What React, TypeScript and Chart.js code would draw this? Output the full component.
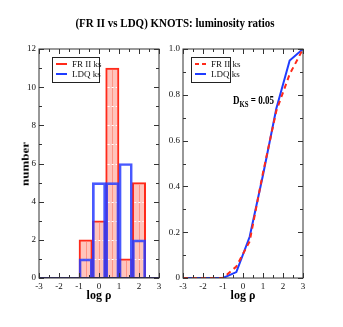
import React, { useEffect, useRef } from "react";
import { Chart, registerables } from "chart.js";

Chart.register(...registerables);

// ---- data ----
const binEdges = [-1, -0.333, 0.333, 1, 1.667, 2.333];
const redCounts = [2, 3, 11, 1, 5];
const blueCounts = [1, 5, 5, 6, 2];

const cdfX = [-3, -1, -0.333, 0.333, 1, 1.667, 2.333, 3];
const cdfRed = [0, 0, 0.05, 0.16, 0.46, 0.73, 0.89, 1];
const cdfBlue = [0, 0, 0.026, 0.18, 0.45, 0.74, 0.95, 1];

const legendLabels = ["FR II ks", "LDQ ks"];
const titleText = "(FR II vs LDQ)  KNOTS: luminosity ratios";

const RED = "#ff2a1a";
const BLUE = "#1f3cff";
const PINK = "#ffc4bc";
const NAVY = "#2b2470";
const FRAME = "#333333";
const SERIF = "'Liberation Serif', 'Times New Roman', serif";

const centers = redCounts.map((_, i) => (binEdges[i] + binEdges[i + 1]) / 2);

function framePlugin(xMinor: number, xMajor: number, yMinor: number, yMajor: number) {
  return {
    id: "frame",
    afterDraw(chart: any) {
      const { ctx, chartArea: a } = chart;
      const xs = chart.scales.x;
      const ys = chart.scales.y;
      ctx.save();
      ctx.strokeStyle = FRAME;
      ctx.lineWidth = 1;
      ctx.strokeRect(a.left, a.top, a.right - a.left, a.bottom - a.top);
      ctx.beginPath();
      const nx = Math.round((xs.max - xs.min) / xMinor);
      for (let i = 0; i <= nx; i++) {
        const v = xs.min + i * xMinor;
        const isMaj = Math.abs(v / xMajor - Math.round(v / xMajor)) < 1e-6;
        const L = isMaj ? 5 : 3;
        const px = Math.round(xs.getPixelForValue(v)) + 0.5;
        ctx.moveTo(px, a.bottom);
        ctx.lineTo(px, a.bottom - L);
        ctx.moveTo(px, a.top);
        ctx.lineTo(px, a.top + L);
      }
      const ny = Math.round((ys.max - ys.min) / yMinor);
      for (let i = 0; i <= ny; i++) {
        const v = ys.min + i * yMinor;
        const isMaj = Math.abs(v / yMajor - Math.round(v / yMajor)) < 1e-6;
        const L = isMaj ? 5 : 3;
        const py = Math.round(ys.getPixelForValue(v)) + 0.5;
        ctx.moveTo(a.left, py);
        ctx.lineTo(a.left + L, py);
        ctx.moveTo(a.right, py);
        ctx.lineTo(a.right - L, py);
      }
      ctx.stroke();
      ctx.restore();
    },
  };
}

function legendPlugin(x0: number, y0: number, w: number, h: number, dashedRed: boolean) {
  return {
    id: "legendBox",
    afterDraw(chart: any) {
      const { ctx } = chart;
      ctx.save();
      ctx.fillStyle = "#ffffff";
      ctx.fillRect(x0, y0, w, h);
      ctx.strokeStyle = "#222";
      ctx.lineWidth = 1;
      ctx.strokeRect(x0 + 0.5, y0 + 0.5, w, h);
      ctx.font = `9px ${SERIF}`;
      ctx.textBaseline = "alphabetic";
      const rows = [
        { c: RED, dash: dashedRed ? [4, 3] : [] },
        { c: BLUE, dash: [] },
      ];
      rows.forEach((r, i) => {
        const ly = y0 + 7 + i * 10;
        ctx.strokeStyle = r.c;
        ctx.lineWidth = 2;
        ctx.setLineDash(r.dash);
        ctx.beginPath();
        ctx.moveTo(x0 + 4, ly);
        ctx.lineTo(x0 + 15, ly);
        ctx.stroke();
        ctx.setLineDash([]);
        ctx.fillStyle = "#111";
        ctx.fillText(legendLabels[i], x0 + 20, ly + 3);
      });
      ctx.restore();
    },
  };
}

const hatchPlugin = {
  id: "hatch",
  afterDatasetDraw(chart: any, args: any) {
    if (chart.data.datasets[args.index].label !== legendLabels[0]) return;
    const { ctx } = chart;
    const ys = chart.scales.y;
    ctx.save();
    args.meta.data.forEach((bar: any, i: number) => {
      const half = bar.width / 2;
      const left = bar.x - half + 2;
      const right = bar.x + half - 2;
      ctx.strokeStyle = "#ff9484";
      ctx.lineWidth = 1;
      ctx.beginPath();
      ctx.moveTo(Math.round(bar.x) + 0.5, bar.y + 2);
      ctx.lineTo(Math.round(bar.x) + 0.5, bar.base);
      ctx.stroke();
      ctx.strokeStyle = "#ffffff";
      ctx.setLineDash([2, 2]);
      for (let k = 1; k < redCounts[i]; k++) {
        const py = Math.round(ys.getPixelForValue(k)) + 0.5;
        ctx.beginPath();
        ctx.moveTo(left, py);
        ctx.lineTo(right, py);
        ctx.stroke();
      }
      ctx.setLineDash([]);
    });
    ctx.restore();
  },
};

function commonScales(yMax: number, yStep: number, yWidth: number, xStacked: boolean) {
  return {
    x: {
      type: "linear" as const,
      min: -3,
      max: 3,
      offset: false,
      stacked: xStacked,
      grid: { display: false, drawTicks: false, offset: false },
      border: { display: false },
      ticks: { stepSize: 1, padding: 3, color: "#111", font: { family: SERIF, size: 9 } },
      afterFit: (s: any) => { s.height = 22; },
    },
    y: {
      min: 0,
      max: yMax,
      stacked: false,
      grid: { display: false, drawTicks: false },
      border: { display: false },
      ticks: { stepSize: yStep, padding: 3, color: "#111", font: { family: SERIF, size: 9 } },
      afterFit: (s: any) => { s.width = yWidth; },
    },
  };
}

export default function App() {
  const leftRef = useRef<HTMLCanvasElement>(null);
  const rightRef = useRef<HTMLCanvasElement>(null);

  useEffect(() => {
    const left = new Chart(leftRef.current!, {
      type: "bar",
      data: {
        datasets: [
          {
            label: legendLabels[0],
            data: centers.map((x, i) => ({ x, y: redCounts[i] })),
            backgroundColor: PINK,
            borderColor: RED,
            borderWidth: 2,
            barPercentage: 1,
            categoryPercentage: 1,
            order: 3,
          } as any,
          {
            label: legendLabels[1],
            data: centers.map((x, i) => ({ x, y: blueCounts[i] })),
            backgroundColor: "rgba(0,0,0,0)",
            borderColor: "rgba(40,60,255,0.85)",
            borderWidth: 2,
            barPercentage: 1,
            categoryPercentage: 1,
            order: 2,
          } as any,
          {
            type: "line",
            label: "zero",
            data: [{ x: -3, y: 0 }, { x: 3, y: 0 }],
            borderColor: NAVY,
            borderWidth: 2,
            pointRadius: 0,
            order: 1,
          } as any,
        ],
      },
      options: {
        animation: false,
        responsive: false,
        maintainAspectRatio: false,
        layout: { padding: { top: 49, right: 11, left: 0, bottom: 0 } },
        plugins: { legend: { display: false }, tooltip: { enabled: false } },
        scales: commonScales(12, 2, 39, true) as any,
      },
      plugins: [hatchPlugin, framePlugin(0.5, 1, 1, 2), legendPlugin(52, 57, 47, 25, false)],
    });

    const right = new Chart(rightRef.current!, {
      type: "line",
      data: {
        datasets: [
          {
            label: legendLabels[0],
            data: cdfX.map((x, i) => ({ x, y: cdfRed[i] })),
            borderColor: RED,
            borderWidth: 2,
            borderDash: [5, 4],
            pointRadius: 0,
            order: 1,
          },
          {
            label: legendLabels[1],
            data: cdfX.map((x, i) => ({ x, y: cdfBlue[i] })),
            borderColor: BLUE,
            borderWidth: 2,
            pointRadius: 0,
            order: 2,
          },
        ],
      },
      options: {
        animation: false,
        responsive: false,
        maintainAspectRatio: false,
        layout: { padding: { top: 49, right: 40, left: 0, bottom: 0 } },
        plugins: { legend: { display: false }, tooltip: { enabled: false } },
        scales: commonScales(1, 0.2, 23, false) as any,
      },
      plugins: [framePlugin(0.5, 1, 0.1, 0.2), legendPlugin(31, 57, 39, 25, true)],
    });

    return () => {
      left.destroy();
      right.destroy();
    };
  }, []);

  const txt = (extra: React.CSSProperties): React.CSSProperties => ({
    position: "absolute",
    fontFamily: SERIF,
    fontWeight: "bold",
    color: "#000",
    whiteSpace: "nowrap",
    lineHeight: 1,
    ...extra,
  });

  return (
    <div style={{ position: "absolute", left: 0, top: 0, width: 343, height: 327, background: "#fff", overflow: "hidden" }}>
      <canvas ref={leftRef} width={170} height={300} style={{ position: "absolute", left: 0, top: 0, width: 170, height: 300 }} />
      <canvas ref={rightRef} width={183} height={300} style={{ position: "absolute", left: 160, top: 0, width: 183, height: 300 }} />
      <div style={txt({ left: 0, width: 350, top: 17, fontSize: 11, textAlign: "center", transform: "scaleY(1.15)" })}>{titleText}</div>
      <div style={txt({ left: 25, top: 164, fontSize: 13, transform: "translate(-50%, -50%) rotate(-90deg) scaleY(0.85)" })}>number</div>
      <div style={txt({ left: 99, top: 289, fontSize: 12, transform: "translateX(-50%)" })}>log ρ</div>
      <div style={txt({ left: 243, top: 289, fontSize: 12, transform: "translateX(-50%)" })}>log ρ</div>
      <div style={txt({ left: 233, top: 94, fontSize: 12, transform: "scaleX(0.75)", transformOrigin: "left top" })}>
        D<sub style={{ fontSize: 9, verticalAlign: "-3px" }}>KS</sub> = 0.05
      </div>
    </div>
  );
}
